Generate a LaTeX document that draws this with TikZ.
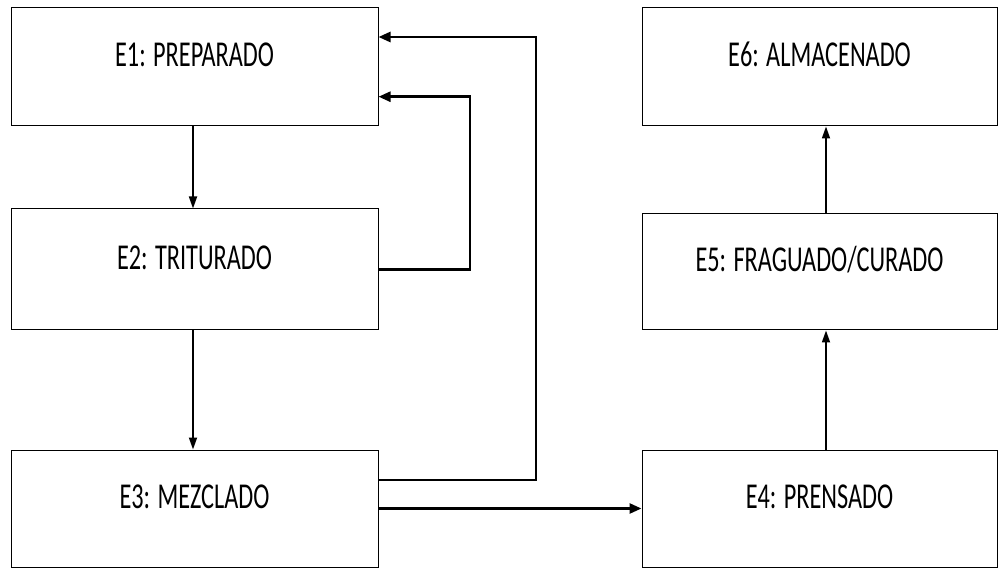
\documentclass[tikz,border=0pt]{standalone}
\usepackage{fontspec}
\setmainfont{Carlito}
\usetikzlibrary{arrows.meta}
\begin{document}
\begin{tikzpicture}[x=1pt,y=-1pt,
  box/.style={draw=black,line width=1pt,rectangle,minimum width=367pt,inner sep=0pt,
    text height=0pt,text depth=0pt,font=\fontsize{24.3}{25}\selectfont},
  rbox/.style={box,minimum width=355pt},
  harrow/.style={line width=2.6pt,-{Triangle[length=12pt,width=10pt]}},
  varrow/.style={line width=1.7pt,-{Triangle[length=12pt,width=8pt]}}]
\useasboundingbox (0,0) rectangle (1002,569);
\node[box,minimum height=118pt] (e1) at (194.5,67) {\scalebox{1}[1.5]{E1: PREPARADO}};
\node[box,minimum height=121pt] (e2) at (194.5,269.5) {\scalebox{1}[1.5]{E2: TRITURADO}};
\node[box,minimum height=117pt] (e3) at (194.5,508.5) {\scalebox{1}[1.5]{E3: MEZCLADO}};
\node[rbox,minimum height=118pt] (e6) at (819.5,67) {\scalebox{1}[1.5]{E6: ALMACENADO}};
\node[rbox,minimum height=116pt] (e5) at (819.5,272) {\scalebox{1}[1.5]{E5: FRAGUADO/CURADO}};
\node[rbox,minimum height=117pt] (e4) at (819.5,508.5) {\scalebox{1}[1.5]{E4: PRENSADO}};
\coordinate (in2) at ([yshift=-29.7pt]e1.east);
\coordinate (in3) at ([yshift=30pt]e1.east);
\coordinate (out3) at ([yshift=28.5pt]e3.east);
\coordinate (c2) at (470,0);
\coordinate (c3) at (536,0);
\draw[varrow] ([xshift=-1.5pt]e1.south) -- ([xshift=-1.5pt]e2.north);
\draw[varrow] ([xshift=-1.5pt]e2.south) -- ([xshift=-1.5pt]e3.north);
\draw[varrow] ([xshift=6.5pt]e4.north) -- ([xshift=6.5pt]e5.south);
\draw[varrow] ([xshift=6.5pt]e5.north) -- ([xshift=6.5pt]e6.south);
\draw[harrow] (e3.east) -- (e4.west);
\draw[harrow] (e2.east) -| (c2 |- in2) -- (in2);
\draw[harrow] (out3) -| (c3 |- in3) -- (in3);
\end{tikzpicture}
\end{document}
